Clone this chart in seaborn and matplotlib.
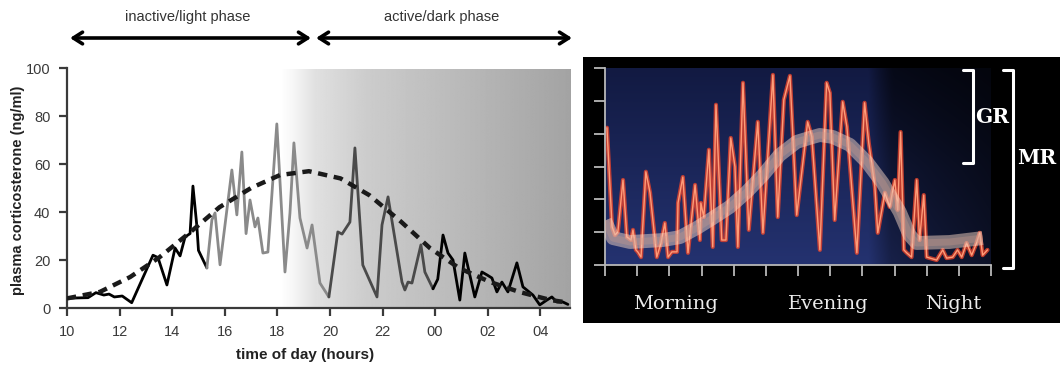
import numpy as np
import pandas as pd
import matplotlib.pyplot as plt
import seaborn as sns

sns.set_theme(style="white")
plt.rcParams['font.family'] = ['Liberation Sans', 'DejaVu Sans']

# ---- left panel data (plasma corticosterone, ng/ml) ----
hours = [10.00, 10.40, 10.80, 11.10, 11.40, 11.60, 11.80, 12.10, 12.46, 13.27, 13.46, 13.80, 14.11,
         14.30, 14.49, 14.68, 14.79, 14.94, 15.00, 15.32, 15.51, 15.63, 15.82, 16.27, 16.46, 16.65,
         16.81, 16.96, 17.15, 17.26, 17.45, 17.64, 17.98, 18.29, 18.48, 18.63, 18.86, 19.13, 19.32,
         19.62, 19.96, 20.30, 20.46, 20.76, 20.95, 21.25, 21.79, 21.98, 22.21, 22.74, 22.85, 22.97,
         23.12, 23.46, 23.61, 23.92, 24.10, 24.30, 24.49, 24.68, 24.94, 25.13, 25.51, 25.78, 25.97,
         26.16, 26.35, 26.54, 26.77, 27.11, 27.34, 27.72, 27.98, 28.25, 28.44, 28.63, 28.86, 29.05]
cort = [4.0, 4.2, 4.3, 6.4, 5.4, 5.8, 4.6, 5.0, 2.2, 22.0, 21.0, 9.6, 25.0, 21.7, 29.6, 31.0, 50.8,
        34.0, 24.0, 16.7, 36.7, 39.6, 18.0, 57.5, 38.8, 65.0, 31.0, 45.0, 33.8, 37.5, 22.9, 23.3,
        76.7, 15.0, 39.6, 68.8, 37.5, 25.0, 34.6, 10.4, 4.6, 31.7, 30.8, 35.8, 66.7, 17.9, 4.6, 34.6,
        46.3, 10.8, 7.5, 10.8, 10.4, 26.3, 15.0, 8.0, 12.0, 30.4, 22.9, 20.0, 3.3, 22.9, 4.6, 15.0,
        13.8, 12.5, 6.7, 10.8, 6.7, 18.8, 8.8, 5.4, 1.3, 3.3, 4.6, 2.5, 2.5, 1.5]
seg_edges = [10.0, 15.32, 19.96, 23.92, 29.2]
seg_colors = ['black', '#8a8a8a', '#4a4a4a', 'black']

fit_hours = [10.0, 11.25, 12.4, 13.5, 14.7, 15.8, 17.0, 18.1, 19.2, 20.4, 21.5, 22.7, 23.8,
             24.9, 26.1, 27.2, 28.4, 28.9]
fit_cort = [4.0, 6.7, 12.9, 21.0, 31.7, 42.0, 50.0, 55.4, 57.0, 54.0, 47.0, 36.0, 25.0,
            16.7, 10.8, 6.7, 3.3, 2.5]

tick_hours = [10, 12, 14, 16, 18, 20, 22, 24, 26, 28]
tick_labels = ['10', '12', '14', '16', '18', '20', '22', '00', '02', '04']

# ---- right panel data ----
red_x = [0.06, 0.22, 0.31, 0.40, 0.56, 0.68, 0.81, 0.87, 0.96, 1.02, 1.12, 1.27, 1.40, 1.61, 1.74,
         1.86, 1.96, 2.08, 2.24, 2.27, 2.42, 2.58, 2.80, 2.95, 2.98, 3.07, 3.23, 3.35, 3.45, 3.63,
         3.76, 3.91, 4.04, 4.13, 4.29, 4.47, 4.75, 4.91, 5.22, 5.37, 5.56, 5.75, 5.96, 6.30, 6.43,
         6.68, 6.89, 6.99, 7.14, 7.39, 7.52, 7.83, 8.07, 8.20, 8.29, 8.39, 8.48, 8.70, 8.85, 9.01,
         9.10, 9.19, 9.29, 9.38, 9.53, 9.69, 9.78, 9.91, 10.00, 10.31, 10.50, 10.62, 10.81, 10.96,
         11.09, 11.24, 11.40, 11.55, 11.65, 11.74, 11.89]
red_y = [4.18, 1.16, 0.91, 1.01, 2.59, 0.85, 0.76, 1.07, 0.46, 0.40, 0.24, 2.84, 2.20, 0.24, 0.67,
         1.28, 0.24, 0.40, 0.40, 1.89, 2.68, 0.37, 2.44, 0.76, 1.89, 1.46, 3.51, 0.55, 4.88, 0.76,
         0.76, 3.87, 2.99, 0.55, 5.55, 1.07, 4.36, 0.98, 5.79, 1.46, 5.03, 5.76, 1.52, 4.36, 3.90,
         0.46, 5.55, 5.24, 1.37, 4.97, 4.21, 0.37, 4.94, 3.72, 3.11, 2.38, 0.98, 2.20, 1.77, 2.59,
         1.68, 4.05, 0.46, 0.37, 0.24, 2.59, 0.76, 2.13, 0.24, 0.15, 0.46, 0.21, 0.24, 0.46, 0.24,
         0.67, 0.30, 0.67, 0.98, 0.30, 0.46]
band_x = [0.0, 0.25, 0.78, 1.80, 2.33, 2.86, 3.35, 3.88, 4.41, 4.91, 5.43, 5.96, 6.46, 6.68, 7.08,
          7.61, 8.14, 8.63, 9.16, 9.47, 9.69, 10.71, 11.74]
band_y = [1.35, 0.82, 0.70, 0.76, 0.85, 1.13, 1.43, 1.77, 2.23, 2.74, 3.35, 3.75, 3.90, 3.96, 3.90,
          3.66, 3.14, 2.50, 1.62, 0.91, 0.67, 0.70, 0.82]
period_labels = ['Morning', 'Evening', 'Night']
period_pos = [675, 828, 953]

W, H = 1060, 371
fig = plt.figure(figsize=(W / 100, H / 100), dpi=100)
fig.patch.set_facecolor('white')

# ================= left panel =================
ax = fig.add_axes([67 / W, 1 - 308 / H, 503 / W, 240 / H])
ax.set_facecolor('white')
gx = np.linspace(0, 1, 400)
shade = np.interp(gx, [0, 0.04, 0.12, 0.3, 1.0], [1.0, 0.97, 0.88, 0.80, 0.64])
ax.imshow(shade[None, :], cmap='gray', vmin=0, vmax=1, aspect='auto',
          extent=[18.1, 29.13, 0, 99.3], zorder=0, interpolation='bilinear')

df = pd.DataFrame({'hour': hours, 'cort': cort})
for lo, hi, c in zip(seg_edges[:-1], seg_edges[1:], seg_colors):
    part = df[(df.hour >= lo) & (df.hour <= hi)]
    sns.lineplot(data=part, x='hour', y='cort', color=c, lw=2.0, estimator=None, ax=ax, zorder=3)

fit = pd.DataFrame({'hour': fit_hours, 'cort': fit_cort})
sns.lineplot(data=fit, x='hour', y='cort', color='#1a1a1a', lw=3.2, estimator=None,
             linestyle=(0, (2.1, 1.5)), ax=ax, zorder=4)

ax.set_xlim(10, 29.13)
ax.set_ylim(0, 100)
ax.set_xticks(tick_hours)
ax.set_xticklabels(tick_labels)
ax.set_yticks([0, 20, 40, 60, 80, 100])
ax.set_xlabel('')
ax.set_ylabel('')
for s in ['top', 'right']:
    ax.spines[s].set_visible(False)
for s in ['left', 'bottom']:
    ax.spines[s].set_color('#3a3a3a')
    ax.spines[s].set_linewidth(1.6)
ax.tick_params(direction='out', length=6, width=1.6, color='#3a3a3a',
               labelsize=10.5, labelcolor='#3a3a3a', pad=6, bottom=True, left=True)

fig.text(305 / W, 1 - 355 / H, 'time of day (hours)', ha='center', va='center',
         fontsize=11, fontweight='bold', color='#222222')
fig.text(18 / W, 1 - 190 / H, 'plasma corticosterone (ng/ml)', ha='center', va='center',
         rotation=90, fontsize=10.5, fontweight='bold', color='#222222')

fig.text(188 / W, 1 - 17 / H, 'inactive/light phase', ha='center', va='center',
         fontsize=10.5, color='#333333')
fig.text(442 / W, 1 - 17 / H, 'active/dark phase', ha='center', va='center',
         fontsize=10.5, color='#333333')
arrow = dict(arrowstyle='<->, head_length=0.55, head_width=0.35', lw=2.6, color='black',
             shrinkA=0, shrinkB=0)
ax.annotate('', xy=(70, H - 38), xytext=(311, H - 38), xycoords='figure pixels',
            textcoords='figure pixels', arrowprops=arrow, annotation_clip=False)
ax.annotate('', xy=(316, H - 38), xytext=(572, H - 38), xycoords='figure pixels',
            textcoords='figure pixels', arrowprops=arrow, annotation_clip=False)

# ================= right panel =================
bg = fig.add_axes([583 / W, 1 - 323 / H, 477 / W, 266 / H])
bg.set_facecolor('black')
bg.set_xlim(583, 1060)
bg.set_ylim(323, 57)
bg.set_xticks([])
bg.set_yticks([])
for s in bg.spines.values():
    s.set_visible(False)

inner = fig.add_axes([605 / W, 1 - 265 / H, 386 / W, 197 / H])
vy = np.linspace(0, 1, 100)[:, None]
hx = np.linspace(0, 12, 300)[None, :]
base_bot = np.array([36, 50, 112]) / 255
base_top = np.array([18, 26, 66]) / 255
col = base_top[None, None, :] * vy[..., None] + base_bot[None, None, :] * (1 - vy[..., None])
fade_h = np.interp(hx, [0, 8.2, 8.9, 10.3, 12], [1.0, 1.0, 0.65, 0.5, 0.35])
fade_v = np.interp(vy, [0, 0.5, 1], [1.0, 0.85, 0.55])
w = np.interp(hx, [0, 8.2, 9.0, 12], [0, 0, 1, 1])
fade = fade_h * (1 - w * (1 - fade_v))
img = col * fade[..., None]
inner.imshow(img, origin='lower', aspect='auto', extent=[0, 12, 0, 6], zorder=0,
             interpolation='bilinear')

red = pd.DataFrame({'t': red_x, 'v': red_y})
sns.lineplot(data=red, x='t', y='v', color='#e8442c', lw=3.0, alpha=0.8, estimator=None,
             ax=inner, zorder=2)
sns.lineplot(data=red, x='t', y='v', color='#ff9c78', lw=1.0, estimator=None, ax=inner, zorder=3)

band = pd.DataFrame({'t': band_x, 'v': band_y})
sns.lineplot(data=band, x='t', y='v', color='#f3d3c2', lw=10, alpha=0.5, estimator=None,
             ax=inner, zorder=4, solid_capstyle='butt')
sns.lineplot(data=band, x='t', y='v', color='#c99a8c', lw=5, alpha=0.35, estimator=None,
             ax=inner, zorder=5, solid_capstyle='butt')

inner.set_xlim(0, 12)
inner.set_ylim(0, 6)
inner.set_xticks(range(13))
inner.set_yticks(range(7))
inner.set_xticklabels([])
inner.set_yticklabels([])
inner.set_xlabel('')
inner.set_ylabel('')
for s in ['top', 'right']:
    inner.spines[s].set_visible(False)
for s in ['left', 'bottom']:
    inner.spines[s].set_color('#b8b8b8')
    inner.spines[s].set_linewidth(1.3)
inner.tick_params(direction='out', length=8, width=1.3, color='#b8b8b8', bottom=True, left=True)

# overlay for labels and brackets, on top of everything
over = fig.add_axes([583 / W, 1 - 323 / H, 477 / W, 266 / H])
over.patch.set_visible(False)
over.set_xlim(583, 1060)
over.set_ylim(323, 57)
over.set_xticks([])
over.set_yticks([])
for s in over.spines.values():
    s.set_visible(False)

serif = ['DejaVu Serif', 'Liberation Serif']
for lab, px in zip(period_labels, period_pos):
    over.text(px, 304, lab, ha='center', va='center', fontsize=14, color='#ececec', family=serif)

over.plot([963, 973, 973, 963], [70, 70, 163, 163], color='white', lw=2.2)
over.plot([1003, 1013, 1013, 1003], [70, 70, 268, 268], color='white', lw=2.2)
over.text(992, 117, 'GR', ha='center', va='center', fontsize=14.5, fontweight='bold',
          color='white', family=serif)
over.text(1037, 158, 'MR', ha='center', va='center', fontsize=14.5, fontweight='bold',
          color='white', family=serif)

fig.savefig('out.png', dpi=100)
